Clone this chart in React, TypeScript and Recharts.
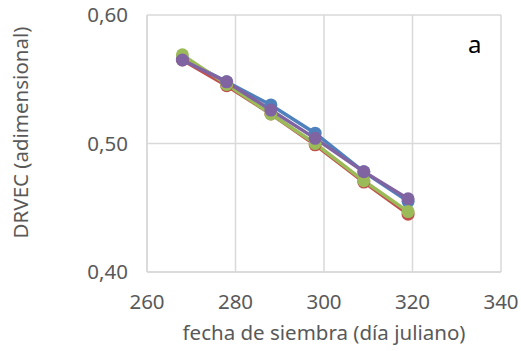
import React from 'react';
import { LineChart, Line, XAxis, YAxis, CartesianGrid } from 'recharts';

// sowing date (julian day) for each point
const fechas = [268, 278, 288, 298, 309, 319];

const serieAzul = [0.566, 0.548, 0.53, 0.508, 0.478, 0.455];
const serieRoja = [0.565, 0.545, 0.523, 0.499, 0.47, 0.445];
const serieVerde = [0.569, 0.546, 0.523, 0.5, 0.471, 0.447];
const serieMorada = [0.565, 0.548, 0.526, 0.504, 0.478, 0.457];

const xTicks = [260, 280, 300, 320, 340];
const yTicks = [0.4, 0.5, 0.6];

const data = fechas.map((dia, i) => ({
  dia,
  azul: serieAzul[i],
  roja: serieRoja[i],
  verde: serieVerde[i],
  morada: serieMorada[i],
}));

const font = '"Noto Sans", sans-serif';
const textColor = '#595959';
const gridColor = '#d9d9d9';
const fontSize = 20.5;

const series = [
  { key: 'azul', color: '#4f81bd' },
  { key: 'roja', color: '#c0504d' },
  { key: 'verde', color: '#9bbb59' },
  { key: 'morada', color: '#8064a2' },
];

export default function App() {
  return (
    <div style={{ position: 'absolute', left: 0, top: 0, width: 521, height: 351, background: '#fff' }}>
      <LineChart
        width={521}
        height={351}
        data={data}
        margin={{ top: 15, right: 20, bottom: 0, left: 0 }}
      >
        <CartesianGrid stroke={gridColor} strokeWidth={1.5} />
        <XAxis
          dataKey="dia"
          type="number"
          domain={[260, 340]}
          ticks={xTicks}
          height={79}
          tickSize={0}
          tickMargin={22}
          axisLine={{ stroke: gridColor, strokeWidth: 1.5 }}
          tick={{ fill: textColor, fontSize, fontFamily: font }}
          label={{
            value: 'fecha de siembra (día juliano)',
            position: 'insideBottom',
            offset: 11,
            fill: textColor,
            fontSize,
            fontFamily: font,
          }}
        />
        <YAxis
          type="number"
          domain={[0.4, 0.6]}
          ticks={yTicks}
          width={147}
          tickSize={0}
          tickMargin={19}
          axisLine={{ stroke: gridColor, strokeWidth: 1.5 }}
          tick={{ fill: textColor, fontSize, fontFamily: font }}
          tickFormatter={(v: number) => v.toFixed(2).replace('.', ',')}
          label={{
            value: 'DRVEC (adimensional)',
            position: 'center',
            angle: -90,
            dx: -53,
            dy: -11,
            fill: textColor,
            fontSize,
            fontFamily: font,
          }}
        />
        {series.map((s) => (
          <Line
            key={s.key}
            dataKey={s.key}
            type="linear"
            stroke={s.color}
            strokeWidth={3.5}
            dot={{ r: 6.5, fill: s.color, stroke: s.color, strokeWidth: 0 }}
            isAnimationActive={false}
          />
        ))}
      </LineChart>
      <div
        style={{
          position: 'absolute',
          left: 468,
          top: 27,
          fontFamily: font,
          fontSize: 24,
          lineHeight: 'normal',
          color: '#000',
        }}
      >
        a
      </div>
    </div>
  );
}
